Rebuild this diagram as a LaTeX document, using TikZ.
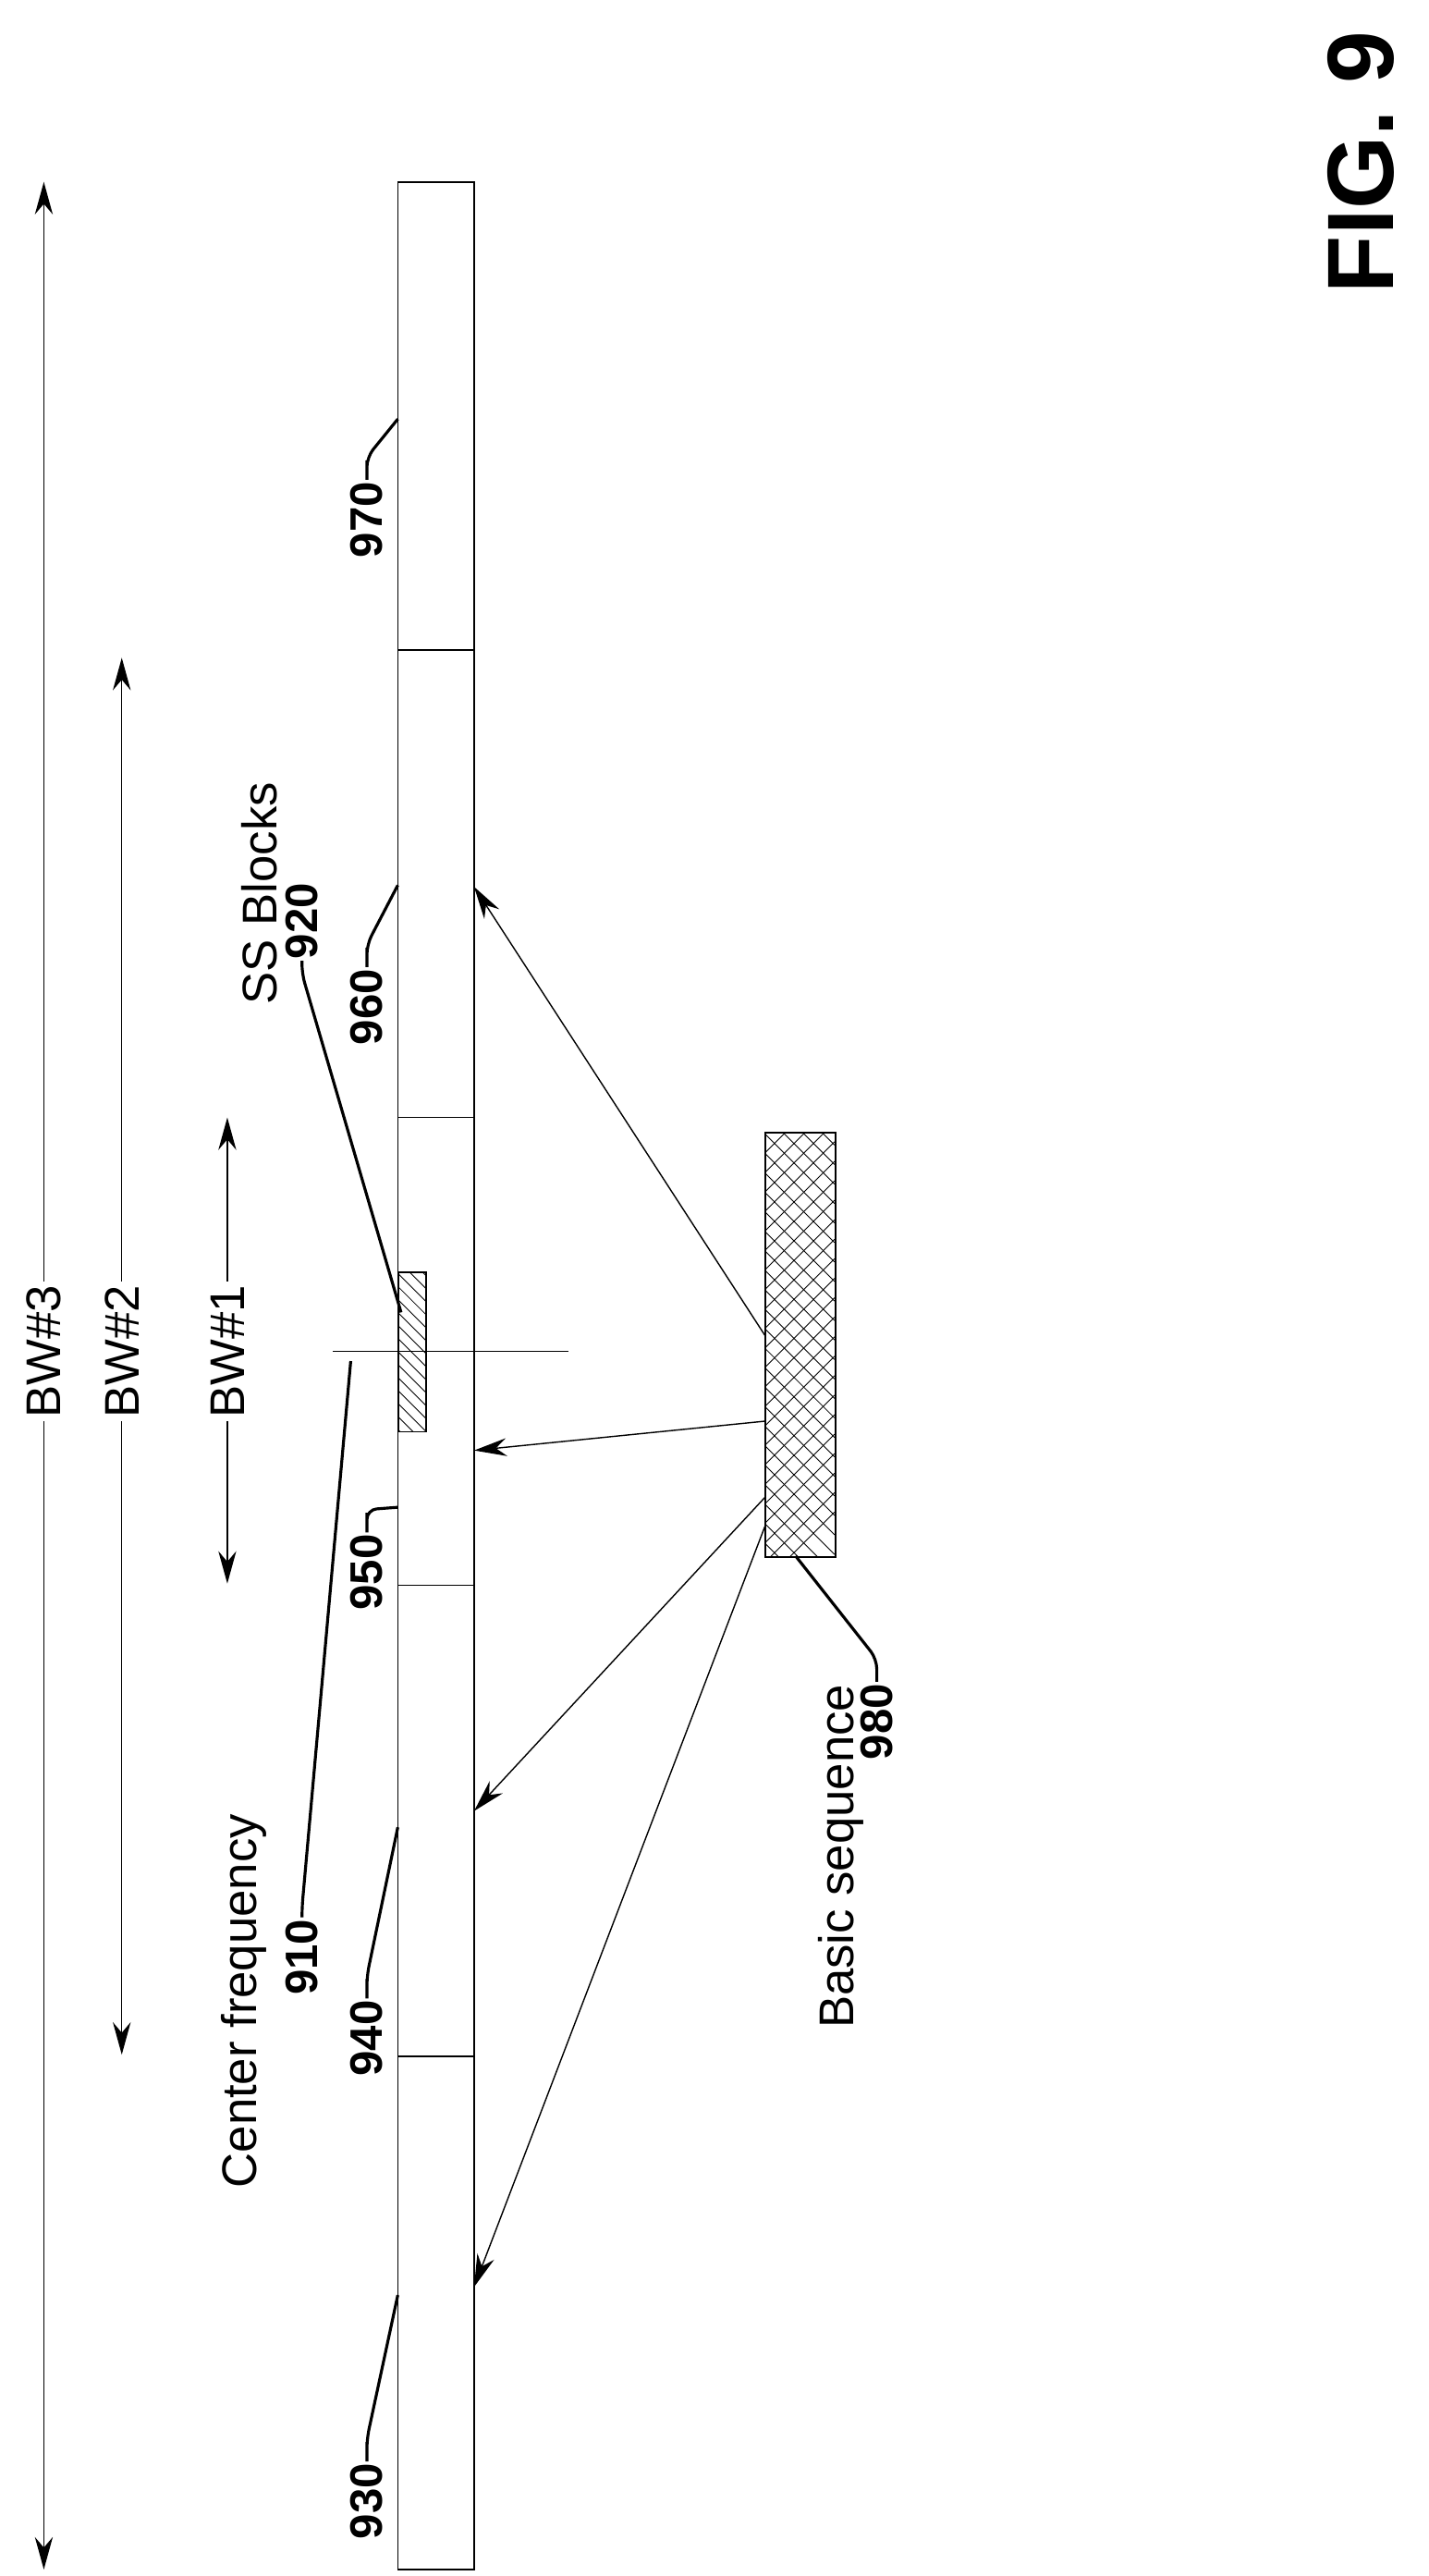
\documentclass[tikz,border=0pt]{standalone}
\usepackage{fontspec}
\setmainfont{Liberation Sans}
\usetikzlibrary{arrows.meta}
\begin{document}
\begin{tikzpicture}[x=1pt,y=-1pt,
  lbl/.style={rotate=90,font=\fontsize{30}{32}\selectfont,inner sep=2pt},
  num/.style={rotate=90,font=\fontsize{28}{30}\selectfont\bfseries,inner sep=1pt},
  lead/.style={line width=1.8pt,rounded corners=6pt},
  arr/.style={-{Stealth[length=20pt,width=11pt]},line width=0.8pt},
  thin/.style={line width=1pt}]
\useasboundingbox (0,0) rectangle (880,1586);
% bar
\draw[thin] (245,112) rectangle (292,1582);
\foreach \y in {400,688,976,1266} \draw[thin] (245,\y) -- (292,\y);
% SS block
\begin{scope}
\clip (245,783) rectangle (262,881);
\foreach \k in {760,768,...,900} \draw[line width=0.5pt] (245,\k) -- (262,\k+17);
\end{scope}
\node[draw,thin,minimum width=17pt,minimum height=98pt,inner sep=0,anchor=north west] (ss) at (245,783) {};
% center line
\coordinate (cl1) at (205,832); \coordinate (cl2) at (350,832);
\draw[line width=0.7pt] (cl1) -- (cl2);
% basic sequence box
\begin{scope}
\clip (471,697) rectangle (514,958);
\foreach \k in {650,662,...,980} {\draw[line width=0.5pt] (471,\k) -- (514,\k+43); \draw[line width=0.5pt] (471,\k) -- (514,\k-43);}
\end{scope}
\node[draw,thin,minimum width=43pt,minimum height=261pt,inner sep=0,anchor=north west] (bs) at (471,697) {};
% arrows
\coordinate (a1) at (471,822); \coordinate (t1) at (292,546);
\coordinate (a2) at (471,875); \coordinate (t2) at (292,893);
\coordinate (a3) at (471,922); \coordinate (t3) at (292,1115);
\coordinate (a4) at (471,940); \coordinate (t4) at (292,1408);
\foreach \i in {1,2,3,4} \draw[arr] (a\i) -- (t\i);
% BW arrows
\node[lbl] (bw3) at (27,832) {BW\#3};
\node[lbl] (bw2) at (75,832) {BW\#2};
\node[lbl] (bw1) at (140,832) {BW\#1};
\coordinate (b3t) at (27,112); \coordinate (b3b) at (27,1582);
\coordinate (b2t) at (75,405); \coordinate (b2b) at (75,1265);
\coordinate (b1t) at (140,688); \coordinate (b1b) at (140,975);
\draw[arr] (bw3.east) -- (b3t); \draw[arr] (bw3.west) -- (b3b);
\draw[arr] (bw2.east) -- (b2t); \draw[arr] (bw2.west) -- (b2b);
\draw[arr] (bw1.east) -- (b1t); \draw[arr] (bw1.west) -- (b1b);
% labels
\node[lbl] (ssl) at (160,550) {SS Blocks};
\node[num] (n920) at (186,567) {920};
\coordinate (e920) at (247,808);
\draw[lead] (n920.west) -- ++(0,8) -- (e920);
\node[lbl] (cfl) at (150,1232) {Center frequency};
\node[num] (n910) at (186,1205) {910};
\coordinate (e910) at (216,838);
\draw[lead] (n910.east) -- ++(0,-6) -- (e910);
\node[lbl] (bsl) at (518,1143) {Basic sequence};
\node[num] (n980) at (540,1060) {980};
\coordinate (e980) at (490,958);
\draw[lead] (n980.east) -- ++(0,-14) -- (e980);
% part numbers
\foreach \n/\y/\ey in {970/320/258,960/620/545,950/968/928,940/1255/1125,930/1540/1413}{
  \node[num] (p\n) at (226,\y) {\n};
  \coordinate (q\n) at (245,\ey);
  \draw[lead] (p\n.east) -- ++(0,-6) -- ++(0,-8) -- (q\n);
}
\node[rotate=90,font=\fontsize{58}{60}\selectfont\bfseries] (fig) at (838,100) {FIG. 9};
\end{tikzpicture}
\end{document}
